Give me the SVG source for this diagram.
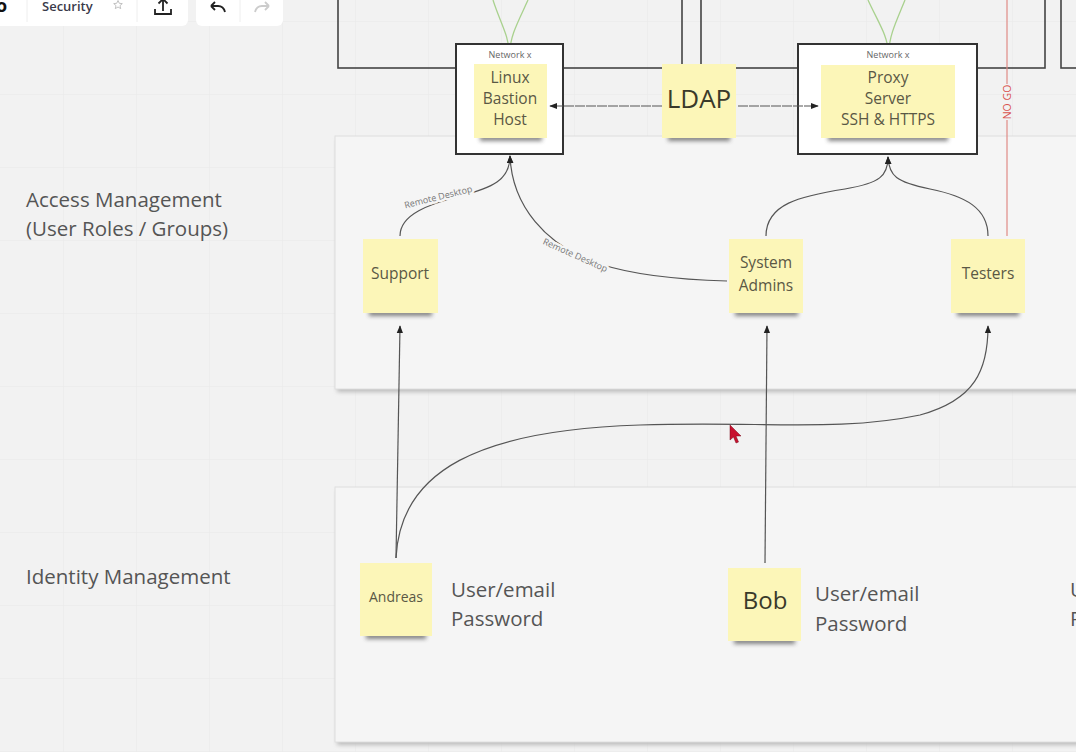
<svg xmlns="http://www.w3.org/2000/svg" width="1076" height="752" viewBox="0 0 1076 752">
<defs>
<pattern id="grid" width="73" height="73" patternUnits="userSpaceOnUse" x="63" y="21">
<path d="M0 0H73M0 0V73" fill="none" stroke="#e8e8e8" stroke-width="1"/>
</pattern>
<filter id="blur" x="-20%" y="-100%" width="140%" height="300%"><feGaussianBlur stdDeviation="2"/></filter>
<filter id="pblur" x="-5%" y="-5%" width="110%" height="110%"><feGaussianBlur stdDeviation="2"/></filter>
<marker id="ah" viewBox="0 0 10 10" refX="9" refY="5" markerWidth="8" markerHeight="8" orient="auto-start-reverse" markerUnits="userSpaceOnUse">
<path d="M0 1L10 5L0 9Z" fill="#222"/>
</marker>
</defs>
<style>
text{font-family:"Open Sans","Noto Sans","Liberation Sans",sans-serif}
.lbl{font-size:20.5px;fill:#555}
.st{fill:#fcf6b8}
.stt{font-size:15.5px;fill:#5a5845;text-anchor:middle}
.shd{fill:#444;opacity:.65;filter:url(#blur)}
.frame{fill:none;stroke:#444;stroke-width:1.6}
.net{fill:#fff;stroke:#333;stroke-width:2}
.netl{font-size:9px;fill:#666;text-anchor:middle}
.panel{fill:#f5f5f5;stroke:#dedede;stroke-width:1}
.conn{fill:none;stroke:#555;stroke-width:1.2}
.grn{fill:none;stroke:#a9d18e;stroke-width:1.3}
.rd{font-size:9px;fill:#777;paint-order:stroke;stroke:#f5f5f5;stroke-width:5px;stroke-linejoin:round}
</style>
<rect width="1076" height="752" fill="#f2f2f2"/>
<rect width="1076" height="752" fill="url(#grid)"/>

<!-- toolbar -->
<g id="toolbar">
<rect x="-10" y="-10" width="198" height="36" rx="6" fill="#fff"/>
<rect x="196" y="-10" width="87" height="36" rx="6" fill="#fff"/>
<text x="-4" y="12" font-size="18" font-weight="700" fill="#111">o</text>
<line x1="27" y1="0" x2="27" y2="22" stroke="#eee"/>
<text x="42" y="11" font-size="13" font-weight="600" fill="#3a3a4a">Security</text>
<path d="M118 0.5l1.3 2.8 3 .3-2.3 2 .7 3-2.7-1.6-2.7 1.6.7-3-2.3-2 3-.3z" fill="none" stroke="#bbb" stroke-width="0.9"/>
<line x1="137" y1="0" x2="137" y2="22" stroke="#eee"/>
<path d="M163 11V0M158.5 3.5L163 -1l4.5 4.5M155 9v5h16V9" fill="none" stroke="#222" stroke-width="1.8"/>
<path d="M211 6l4-4M211 6l4 4M211 6h7c4 0 6 2 7 6" fill="none" stroke="#222" stroke-width="1.8"/>
<line x1="240" y1="0" x2="240" y2="22" stroke="#eee"/>
<path d="M269 6l-4-4M269 6l-4 4M269 6h-7c-4 0-6 2-7 6" fill="none" stroke="#ccc" stroke-width="1.8"/>
</g>

<!-- top frames -->
<g id="frames">
<rect class="frame" x="338" y="-10" width="344" height="78"/>
<rect class="frame" x="701" y="-10" width="344" height="78"/>
<rect class="frame" x="1061" y="-10" width="40" height="78"/>
</g>

<!-- panels -->
<g id="access-panel">
<rect x="337" y="140" width="760" height="252" fill="#bbb" filter="url(#pblur)"/>
<rect class="panel" x="335" y="136" width="760" height="253"/>
</g>
<g id="identity-panel">
<rect x="337" y="491" width="760" height="254" fill="#bbb" filter="url(#pblur)"/>
<rect class="panel" x="335" y="487" width="760" height="255"/>
</g>

<g id="label-access">
<text class="lbl" x="26" y="207">Access Management</text>
<text class="lbl" x="26" y="236">(User Roles / Groups)</text>
</g>
<g id="label-identity">
<text class="lbl" x="26" y="584">Identity Management</text>
</g>

<!-- NO GO -->
<g id="nogo">
<line x1="1007" y1="0" x2="1007" y2="84" stroke="#e08a85" stroke-width="1.2"/>
<line x1="1007" y1="120" x2="1007" y2="236" stroke="#e08a85" stroke-width="1.2"/>
<text x="0" y="0" transform="translate(1010.5 102) rotate(-90)" font-size="10.5" fill="#d9534f" text-anchor="middle">NO GO</text>
</g>

<!-- network box 1 -->
<g id="linux-bastion">
<path class="grn" d="M493 0C500 22 509 36 509 52M528 0C518 22 510 36 510 52"/>
<rect class="net" x="456" y="44" width="107" height="110"/>
<text class="netl" x="510" y="58">Network x</text>
<rect class="shd" x="480" y="135" width="62" height="6"/>
<rect class="st" x="474" y="64" width="73" height="74"/>
<text class="stt" x="510" y="83">Linux</text>
<text class="stt" x="510" y="104">Bastion</text>
<text class="stt" x="510" y="125">Host</text>
</g>

<g id="ldap">
<rect class="shd" x="668" y="135" width="62" height="6"/>
<rect class="st" x="662" y="64" width="74" height="74"/>
<text x="699" y="108" font-size="26" fill="#3a3a2a" text-anchor="middle">LDAP</text>
</g>

<g id="proxy-server">
<path class="grn" d="M868 0C878 22 888 36 888 52M905 0C896 22 889 36 889 52"/>
<rect class="net" x="798" y="44" width="179" height="110"/>
<text class="netl" x="888" y="58">Network x</text>
<rect class="shd" x="828" y="135" width="120" height="6"/>
<rect class="st" x="821" y="65" width="134" height="73"/>
<text class="stt" x="888" y="83">Proxy</text>
<text class="stt" x="888" y="104">Server</text>
<text class="stt" x="888" y="125">SSH &amp; HTTPS</text>
</g>

<!-- access stickies -->
<g id="support">
<rect class="shd" x="369" y="310" width="63" height="6"/>
<rect class="st" x="363" y="239" width="75" height="74"/>
<text class="stt" x="400" y="279">Support</text>
</g>
<g id="system-admins">
<rect class="shd" x="735" y="310" width="63" height="6"/>
<rect class="st" x="729" y="239" width="74" height="74"/>
<text class="stt" x="766" y="268">System</text>
<text class="stt" x="766" y="291">Admins</text>
</g>
<g id="testers">
<rect class="shd" x="957" y="310" width="62" height="6"/>
<rect class="st" x="951" y="239" width="74" height="74"/>
<text class="stt" x="988" y="279">Testers</text>
</g>

<!-- identity stickies -->
<g id="andreas">
<rect class="shd" x="366" y="633" width="60" height="6"/>
<rect class="st" x="360" y="563" width="72" height="73"/>
<text class="stt" x="396" y="602" style="font-size:14px">Andreas</text>
<text class="lbl" x="451" y="597">User/email</text>
<text class="lbl" x="451" y="626">Password</text>
</g>
<g id="bob">
<rect class="shd" x="734" y="638" width="61" height="6"/>
<rect class="st" x="728" y="568" width="73" height="73"/>
<text x="765" y="609" font-size="24" fill="#3a3a2a" text-anchor="middle">Bob</text>
<text class="lbl" x="815" y="601">User/email</text>
<text class="lbl" x="815" y="631">Password</text>
</g>
<g id="user3">
<text class="lbl" x="1070" y="597">User/email</text>
<text class="lbl" x="1070" y="626">Password</text>
</g>

<!-- connectors -->
<g id="connectors">
<line class="conn" x1="662" y1="106" x2="550" y2="106" stroke-dasharray="10 1" marker-end="url(#ah)"/>
<line class="conn" x1="738" y1="106" x2="818" y2="106" stroke-dasharray="10 1" marker-end="url(#ah)"/>
<path class="conn" d="M400 236C400 214 430 204 460 196C492 188 510 180 510 156" marker-end="url(#ah)"/>
<path class="conn" d="M727 281C690 280 640 277 600 264C545 246 512 205 510 156" marker-end="url(#ah)"/>
<path class="conn" d="M766 236C766 204 800 196 845 189C880 183 888 176 888 157" marker-end="url(#ah)"/>
<path class="conn" d="M988 236C988 208 965 196 930 189C896 182 889 176 888 157" marker-end="url(#ah)"/>
<line class="conn" x1="396" y1="558" x2="400" y2="326" marker-end="url(#ah)"/>
<line class="conn" x1="765" y1="563" x2="767" y2="326" marker-end="url(#ah)"/>
<path class="conn" d="M396 558C400 470 480 430 640 425C760 421 840 432 920 415C975 400 988 370 988 326" marker-end="url(#ah)"/>
<text class="rd" x="0" y="0" transform="translate(439 200) rotate(-14)" text-anchor="middle">Remote Desktop</text>
<text class="rd" x="0" y="0" transform="translate(574 258) rotate(24)" text-anchor="middle">Remote Desktop</text>
</g>

<!-- cursor -->
<g id="cursor">
<path d="M730 425L730 440L733.5 437L736 443L738.5 442L736 436L741 436Z" fill="#c8102e" stroke="#7a0a1a" stroke-width="0.5"/>
</g>
</svg>
